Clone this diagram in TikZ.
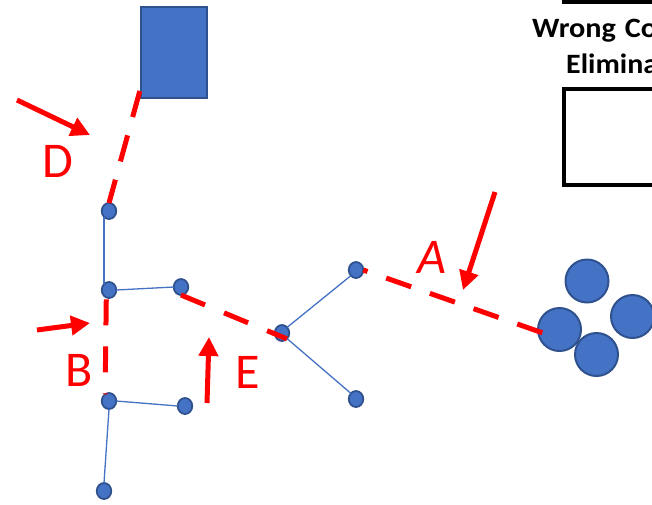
\documentclass[tikz,border=0pt]{standalone}
\usepackage{fontspec}
\setmainfont{Carlito}
\usetikzlibrary{shapes.geometric,arrows.meta,calc}
\definecolor{bfill}{HTML}{4472C4}
\definecolor{bline}{HTML}{2F528F}
\definecolor{myred}{HTML}{FF0000}
\tikzset{
  dot/.style={ellipse,draw=bline,fill=bfill,line width=1.8pt,minimum width=14.5pt,minimum height=16pt,inner sep=0pt,outer sep=0pt},
  bigdot/.style={circle,draw=bline,fill=bfill,line width=2pt,minimum size=43pt,inner sep=0pt,outer sep=0pt},
  bluebox/.style={rectangle,draw=bline,fill=bfill,line width=2pt,minimum width=66pt,minimum height=91pt,inner sep=0pt,outer sep=0pt},
  thin/.style={draw=bfill,line width=1.3pt},
  reddash/.style={draw=myred,line width=5pt},
  redarrow/.style={draw=myred,line width=5pt,-{Triangle[length=19pt,width=19pt]}},
  lbl/.style={text=myred,font=\fontsize{50}{60}\selectfont,inner sep=0pt},
  heading/.style={font=\bfseries\fontsize{28}{33}\selectfont,inner sep=0pt},
  blackbox/.style={draw=black,line width=4pt},
}
\begin{document}
\begin{tikzpicture}[x=1pt,y=-1pt]
\useasboundingbox (0,0) rectangle (652,504);
% right side boxes and heading
\draw[blackbox] (564,-60) rectangle (760,2);
\draw[blackbox] (564,88.5) rectangle (760,185);
\node[heading,anchor=base west] (h1) at (532,37) {\scalebox{1.08}[1]{Wrong\hspace{2pt} Co}};
\node[heading,anchor=base west] (h2) at (566,73) {\scalebox{1.07}[1]{Elimina}};
% nodes
\node[bluebox] (rect) at (173.8,52.5) {};
\node[dot] (n1) at (109,211) {};
\node[dot] (n2) at (109,290) {};
\node[dot] (n3) at (181,287) {};
\node[dot] (n4) at (109,401) {};
\node[dot] (n5) at (185,406) {};
\node[dot] (n6) at (104,491) {};
\node[dot] (n7) at (282,333) {};
\node[dot] (n8) at (356,270) {};
\node[dot] (n9) at (356,399) {};
\node[bigdot] (c1) at (587,281) {};
\node[bigdot] (c2) at (632.5,316.5) {};
\node[bigdot] (c3) at (559.5,329.5) {};
\node[bigdot] (c4) at (596.5,354.5) {};
% thin blue connections
\draw[thin] (n1.230) -- (n2.130);
\draw[thin] (n2.east) -- (n3.west);
\draw[thin] (n4.east) -- (n5.west);
\draw[thin] (n4.south) -- (n6.north);
\draw[thin] (n7.north east) -- (n8.south west);
\draw[thin] (n7.south east) -- (n9.north west);
% red dashed wrong connections
\draw[reddash,dash pattern=on 27pt off 19pt] ($(rect.south west)+(-1,-7)$) -- (n1.north);
\draw[reddash,dash pattern=on 26pt off 21pt,shorten <=2pt] (n2.250) -- (n4.120);
\draw[reddash,dash pattern=on 26pt off 20.6pt] (n3.south) -- (n7.310);
\draw[reddash,dash pattern=on 26.5pt off 19.8pt,dash phase=22pt] (n8.east) -- ($(c3.center)+(-16.5,3.5)$);
% arrows
\coordinate (Dt) at (17,100);  \coordinate (Dh) at (90,135);
\coordinate (Bt) at (37,330);  \coordinate (Bh) at (90,323);
\coordinate (Et) at (207,403); \coordinate (Eh) at (209,337);
\coordinate (At) at (495,192); \coordinate (Ah) at (463,290);
\draw[redarrow] (Dt) -- (Dh);
\draw[redarrow] (Bt) -- (Bh);
\draw[redarrow] (Et) -- (Eh);
\draw[redarrow] (At) -- (Ah);
% labels
\node[lbl] (lD) at (57.5,161) {D};
\node[lbl] (lB) at (79.5,370) {B};
\node[lbl] (lE) at (247.5,372.5) {E};
\node[lbl,font=\itshape\fontsize{50}{60}\selectfont] (lA) at (432,257.5) {A};
\end{tikzpicture}
\end{document}
